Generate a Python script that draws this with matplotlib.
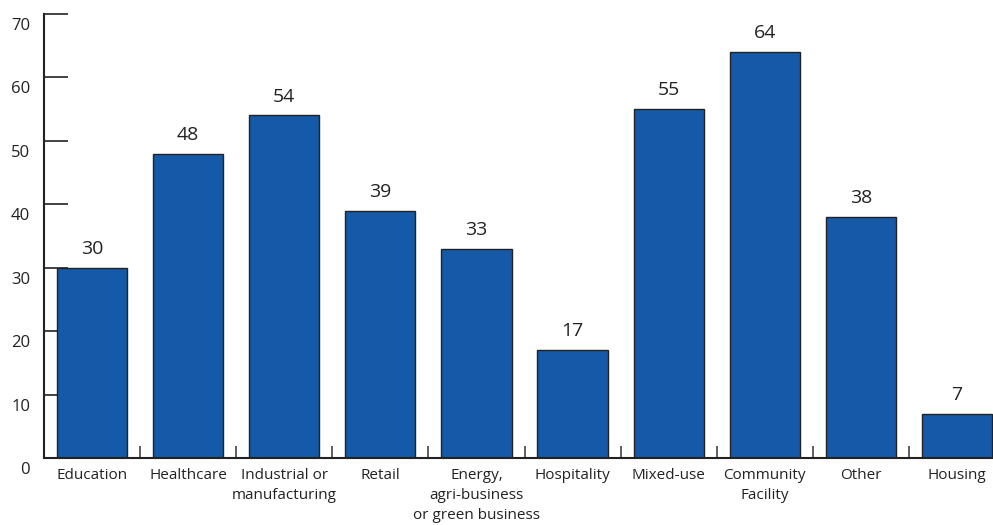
import matplotlib
matplotlib.use('Agg')
import matplotlib.pyplot as plt
import matplotlib.transforms as mtransforms
import numpy as np

categories = ['Education', 'Healthcare', 'Industrial or\nmanufacturing', 'Retail',
              'Energy,\nagri-business\nor green business', 'Hospitality', 'Mixed-use',
              'Community\nFacility', 'Other', 'Housing']
values = [30, 48, 54, 39, 33, 17, 55, 64, 38, 7]
yticks = [0, 10, 20, 30, 40, 50, 60, 70]

plt.rcParams['font.family'] = ['Open Sans', 'DejaVu Sans']

fig = plt.figure(figsize=(9.93, 5.25), dpi=100)
ax = fig.add_axes([44/993, 67/525, (1005-44)/993, (458-14)/525])
ax.set_axisbelow(True)

x = np.arange(len(categories))
bars = ax.bar(x, values, width=0.73, color='#155aa8', edgecolor='#222222', linewidth=1.0)

for xi, v in zip(x, values):
    ax.annotate(str(v), (xi, v), xytext=(0, 7), textcoords='offset points',
                ha='center', va='bottom', fontsize=14, color='#222222')

ax.set_xlim(-0.5, 9.5)
ax.set_ylim(0, 70)
ax.set_yticks(yticks)
ax.set_yticklabels([str(t) for t in yticks], fontsize=12, color='#222222')
ax.tick_params(axis='y', direction='in', length=17, width=1.2, pad=10, color='#222222')
# labels sit a little below their ticks
offset = mtransforms.ScaledTranslation(0, -10/100, fig.dpi_scale_trans)
for lab in ax.get_yticklabels():
    lab.set_transform(lab.get_transform() + offset)

ax.set_xticks(x)
ax.set_xticklabels(categories, fontsize=11, color='#222222', linespacing=1.45)
ax.tick_params(axis='x', which='major', length=0, pad=7)
ax.set_xticks(np.arange(0.5, 9.5, 1), minor=True)
ax.tick_params(axis='x', which='minor', direction='in', length=9, width=1.2, color='#444444')

for s in ['top', 'right']:
    ax.spines[s].set_visible(False)
for s in ['left', 'bottom']:
    ax.spines[s].set_linewidth(1.5)
    ax.spines[s].set_color('#222222')

fig.savefig('out.png', dpi=100)
